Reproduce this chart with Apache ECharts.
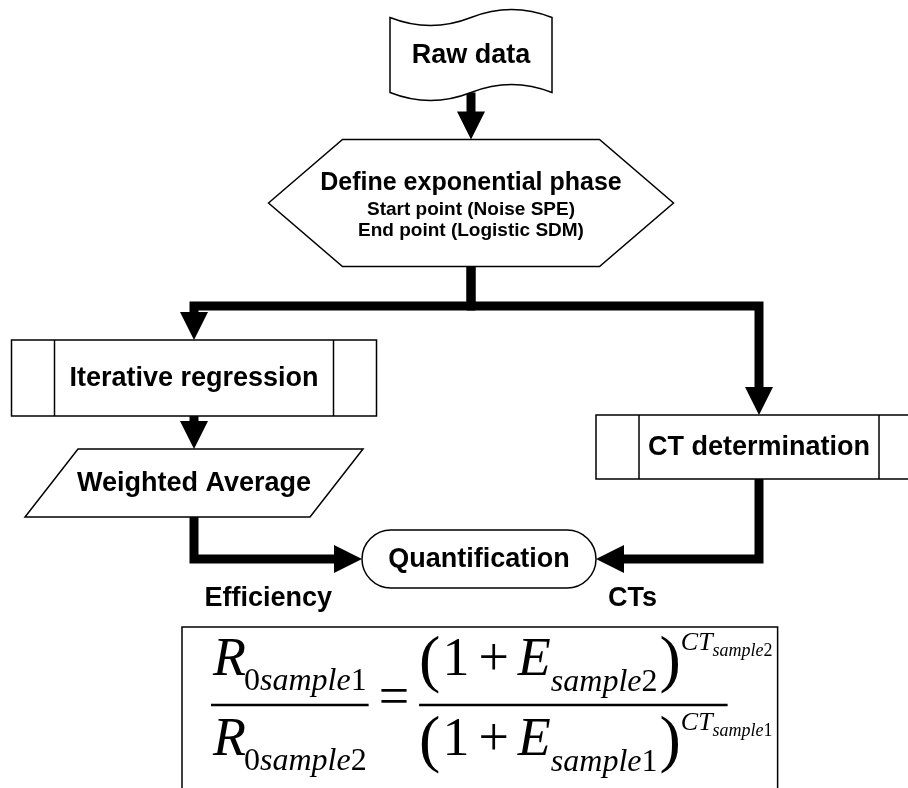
<!DOCTYPE html>
<html>
<head>
<meta charset="utf-8">
<style>
  html, body { margin: 0; padding: 0; background: #fff; }
  #chart { width: 908px; height: 788px; }
</style>
<script src="https://cdn.jsdelivr.net/npm/echarts@6/dist/echarts.min.js"></script>
</head>
<body>
<div id="chart"></div>
<script>
// flowchart steps
const nodeIds = ['raw', 'define', 'iter', 'weighted', 'ct', 'quant'];
const nodeTitles = ['Raw data', 'Define exponential phase', 'Iterative regression', 'Weighted Average', 'CT determination', 'Quantification'];
const nodeNotes = ['', 'Start point (Noise SPE)\nEnd point (Logistic SDM)', '', '', '', ''];
const nodeShapes = ['tape', 'hexagon', 'process', 'data', 'process', 'terminal'];

// connections between steps
const linkFrom = ['raw', 'define', 'define', 'iter', 'weighted', 'ct'];
const linkTo = ['define', 'iter', 'ct', 'weighted', 'quant', 'quant'];
const linkLabels = ['', '', '', '', 'Efficiency', 'CTs'];

// formula terms
const ratioSymbol = 'R';
const ratioIndex = '0';
const sampleWord = 'sample';
const sampleIds = ['1', '2'];
const effSymbol = 'E';
const cycleSymbol = 'CT';

const W = 908, H = 788;
const sans = '"Liberation Sans", Arial, sans-serif';
const serif = '"Liberation Serif", "Times New Roman", serif';

// diagram layout (same units as the hidden axes)
const layout = {
  raw:      { x: 471, y: 55,  w: 162, h: 75 },
  define:   { x: 471, y: 203, w: 405, h: 127 },
  iter:     { x: 194, y: 378, w: 365, h: 76 },
  weighted: { x: 194, y: 483, w: 338, h: 68 },
  ct:       { x: 759, y: 447, w: 326, h: 64 },
  quant:    { x: 479, y: 559, w: 234, h: 58 }
};
const busY = 306;

const mctx = document.createElement('canvas').getContext('2d');
function textW(t, size, italic) {
  mctx.font = (italic ? 'italic ' : '') + size + 'px ' + serif;
  return mctx.measureText(t).width;
}

const chart = echarts.init(document.getElementById('chart'));

function txt(pt, text, size, opts) {
  opts = opts || {};
  return {
    type: 'text', x: pt[0], y: pt[1],
    style: {
      text: text,
      font: 'bold ' + size + 'px ' + sans,
      fill: '#000', align: opts.align || 'center', verticalAlign: 'middle', lineHeight: opts.lineHeight
    }
  };
}

function renderNode(params, api) {
  const i = api.value(4);
  const c = api.coord([api.value(0), api.value(1)]);
  const s = api.size([api.value(2), api.value(3)]);
  const L = c[0] - s[0] / 2, R = c[0] + s[0] / 2, T = c[1] - s[1] / 2, B = c[1] + s[1] / 2;
  const stroke = { fill: '#fff', stroke: '#000', lineWidth: 1.5 };
  const line = { stroke: '#000', lineWidth: 1.5 };
  const kids = [];
  const shape = nodeShapes[i];
  if (shape === 'tape') {
    const w = R - L, a = 8;
    const d = 'M' + L + ',' + T + ' Q' + (L + w / 4) + ',' + (T + 2 * a) + ' ' + (L + w / 2) + ',' + T +
      ' Q' + (L + 3 * w / 4) + ',' + (T - 2 * a) + ' ' + R + ',' + T +
      ' L' + R + ',' + B + ' Q' + (L + 3 * w / 4) + ',' + (B - 2 * a) + ' ' + (L + w / 2) + ',' + B +
      ' Q' + (L + w / 4) + ',' + (B + 2 * a) + ' ' + L + ',' + B + ' Z';
    kids.push({ type: 'path', shape: { pathData: d }, style: stroke });
  } else if (shape === 'hexagon') {
    const k = 74;
    kids.push({ type: 'polygon', shape: { points: [[L, c[1]], [L + k, T], [R - k, T], [R, c[1]], [R - k, B], [L + k, B]] }, style: stroke });
  } else if (shape === 'process') {
    const k = 43;
    kids.push({ type: 'rect', shape: { x: L, y: T, width: R - L, height: B - T }, style: stroke });
    kids.push({ type: 'line', shape: { x1: L + k, y1: T, x2: L + k, y2: B }, style: line });
    kids.push({ type: 'line', shape: { x1: R - k, y1: T, x2: R - k, y2: B }, style: line });
  } else if (shape === 'data') {
    const k = 53;
    kids.push({ type: 'polygon', shape: { points: [[L + k, T], [R, T], [R - k, B], [L, B]] }, style: stroke });
  } else {
    const r = (B - T) / 2;
    kids.push({ type: 'rect', shape: { x: L, y: T, width: R - L, height: B - T, r: r }, style: stroke });
  }
  if (nodeNotes[i]) {
    kids.push(txt([c[0], c[1] - 20], nodeTitles[i], 25));
    kids.push(txt([c[0], c[1] + 17], nodeNotes[i], 19, { lineHeight: 21 }));
  } else {
    kids.push(txt([c[0], c[1] + 1], nodeTitles[i], 27));
  }
  return { type: 'group', children: kids };
}

function linkPoints(k) {
  const s = layout[linkFrom[k]], t = layout[linkTo[k]];
  const start = [s.x, s.y + s.h / 2];
  const fanOut = linkFrom.filter(f => f === linkFrom[k]).length > 1;
  if (fanOut) return [start, [s.x, busY], [t.x, busY], [t.x, t.y - t.h / 2]];
  if (Math.abs(s.x - t.x) < 4) return [start, [s.x, t.y - t.h / 2]];
  const side = t.x > s.x ? t.x - t.w / 2 : t.x + t.w / 2;
  return [start, [s.x, t.y], [side, t.y]];
}

function renderLink(params, api) {
  const k = api.value(0);
  const pts = linkPoints(k).map(p => api.coord(p));
  const n = pts.length;
  const tip = pts[n - 1], prev = pts[n - 2];
  const len = Math.hypot(tip[0] - prev[0], tip[1] - prev[1]);
  const ux = (tip[0] - prev[0]) / len, uy = (tip[1] - prev[1]) / len;
  const head = 28, half = 14;
  const base = [tip[0] - ux * head, tip[1] - uy * head];
  const linePts = pts.slice(0, n - 1).concat([[tip[0] - ux * (head - 4), tip[1] - uy * (head - 4)]]);
  const kids = [
    { type: 'polyline', shape: { points: linePts }, style: { stroke: '#000', lineWidth: 9, fill: null, lineJoin: 'miter' } },
    { type: 'polygon', shape: { points: [tip, [base[0] - uy * half, base[1] + ux * half], [base[0] + uy * half, base[1] - ux * half]] }, style: { fill: '#000' } }
  ];
  if (linkLabels[k]) {
    const right = ux > 0;
    kids.push(txt([right ? tip[0] - 30 : tip[0] + 12, tip[1] + 40], linkLabels[k], 27, { align: right ? 'right' : 'left' }));
  }
  return { type: 'group', children: kids };
}

// one run of formula text, placed left to right on a baseline
function run(api, x, base, parts) {
  const els = [];
  let cx = x;
  parts.forEach(p => {
    cx += p.gap || 0;
    const size = p.size;
    const pt = api.coord([cx, base + (p.dy || 0)]);
    els.push({
      type: 'text', x: pt[0], y: pt[1] - 0.35 * size,
      style: { text: p.t, font: (p.it ? 'italic ' : '') + size + 'px ' + serif, fill: '#000', align: 'left', verticalAlign: 'middle' }
    });
    cx += textW(p.t, size, p.it);
  });
  return { els: els, end: cx };
}

function renderFormula(params, api) {
  const left = 182, top = 627, barY = 705, numBase = 680, denBase = 760;
  const big = 54, sub = 32;
  const kids = [];
  const bar = (x1, x2) => {
    const a = api.coord([x1, barY]), b = api.coord([x2, barY]);
    kids.push({ type: 'line', shape: { x1: a[0], y1: a[1], x2: b[0], y2: b[1] }, style: { stroke: '#000', lineWidth: 2.6 } });
  };
  // left ratio
  const x0 = 213;
  const ratio = id => [
    { t: ratioSymbol, size: big, it: true },
    { t: ratioIndex, size: sub, dy: 13, gap: -2 },
    { t: sampleWord, size: sub, it: true, dy: 13 },
    { t: id, size: sub, dy: 13 }
  ];
  const n1 = run(api, x0, numBase, ratio(sampleIds[0]));
  const d1 = run(api, x0, denBase, ratio(sampleIds[1]));
  const lEnd = Math.max(n1.end, d1.end) + 2;
  kids.push(...n1.els, ...d1.els);
  bar(x0 - 2, lEnd);
  // equals sign
  const eq = run(api, lEnd + 10, barY + 0.25 * big, [{ t: '=', size: big }]);
  kids.push(...eq.els);
  // right ratio
  const rx = eq.end + 10;
  const growth = id => [
    { t: '(', size: 64, dy: 6 },
    { t: '1', size: big, gap: 2 },
    { t: '+', size: big, gap: 9 },
    { t: effSymbol, size: big, it: true, gap: 9 },
    { t: sampleWord, size: sub, it: true, dy: 14 },
    { t: id, size: sub, dy: 14 },
    { t: ')', size: 64, dy: 6, gap: 2 },
    { t: cycleSymbol, size: 26, it: true, dy: -28 },
    { t: sampleWord, size: 18, it: true, dy: -22 },
    { t: id, size: 18, dy: -22 }
  ];
  const n2 = run(api, rx, numBase, growth(sampleIds[1]));
  const d2 = run(api, rx, denBase, growth(sampleIds[0]));
  kids.push(...n2.els, ...d2.els);
  const rEnd = Math.max(n2.end, d2.end);
  bar(rx, rEnd - 45);
  const right = rEnd + 5;
  const a = api.coord([left, H + 10]), b = api.coord([left, top]), c = api.coord([right, top]), d = api.coord([right, H + 10]);
  kids.unshift({ type: 'polyline', shape: { points: [a, b, c, d] }, style: { stroke: '#000', lineWidth: 1.5, fill: null } });
  return { type: 'group', children: kids };
}

chart.setOption({
  animation: false,
  backgroundColor: '#fff',
  grid: { left: 0, right: 0, top: 0, bottom: 0 },
  xAxis: { type: 'value', min: 0, max: W, show: false },
  yAxis: { type: 'value', min: 0, max: H, inverse: true, show: false },
  series: [
    {
      type: 'custom', clip: false, renderItem: renderLink,
      data: linkFrom.map((f, k) => [k, 0]), encode: { x: -1, y: -1 }
    },
    {
      type: 'custom', clip: false, renderItem: renderNode,
      data: nodeIds.map((id, i) => [layout[id].x, layout[id].y, layout[id].w, layout[id].h, i]),
      encode: { x: 0, y: 1 }
    },
    {
      type: 'custom', clip: false, renderItem: renderFormula,
      data: [[0, 0]], encode: { x: -1, y: -1 }
    }
  ]
});
</script>
</body>
</html>
